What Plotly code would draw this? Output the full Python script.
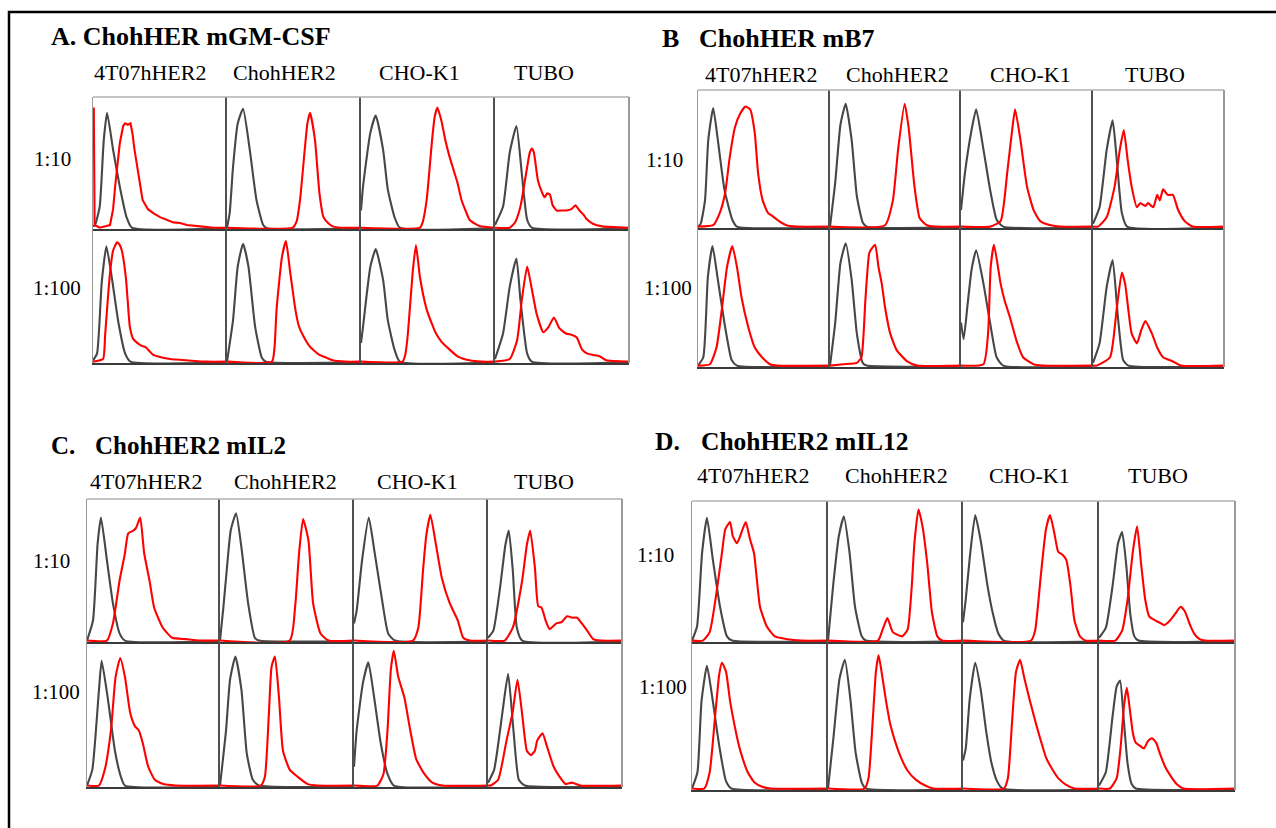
import plotly.graph_objects as go

W, H = 1276, 828

# Flow-cytometry histograms: (channel, % of max count) per sample.
# Order in each list: row 1:10 -> 4T07hHER2, ChohHER2, CHO-K1, TUBO; then row 1:100 in the same order.
CELL_LINES = ["4T07hHER2", "ChohHER2", "CHO-K1", "TUBO"]
DILUTIONS = ["1:10", "1:100"]

A_CONTROL = [
    [(0, 2), (1.5, 3), (5, 17), (8, 67), (10.5, 88), (15, 60), (20, 32), (25, 9), (29, 1), (100, 0.5)],
    [(0, 1), (2, 12), (4.5, 47), (8, 80), (12, 91), (17, 60), (22, 22), (27, 3), (30, 0.5), (100, 0.5)],
    [(0, 14), (1.5, 32), (7, 73), (11, 86), (16.5, 60), (20, 30), (25, 9), (29, 1), (100, 0.5)],
    [(0, 3), (6, 17), (11, 58), (16, 78), (20, 42), (24, 7), (27.5, 1), (100, 0.5)],
    [(0, 2), (3, 7), (6.5, 60), (10, 87), (14, 64), (19, 30), (24, 7), (28, 1), (100, 0.5)],
    [(0, 1), (4.5, 32), (8, 72), (12, 89), (16, 72), (21, 27), (26, 4), (29, 1), (100, 0.5)],
    [(0, 15), (1.5, 27), (7, 72), (11, 85), (16.5, 62), (20, 32), (25, 10), (29, 1), (100, 0.5)],
    [(0, 3), (6, 22), (11, 57), (16, 78), (19, 47), (24, 7), (27.5, 1), (100, 0.5)],
]
A_STAINED = [
    [(0.6, 92), (1.2, 3), (5, 1), (12.7, 3), (15, 15), (16.5, 32), (20, 65), (22.5, 78), (24, 80), (26, 79),
     (28, 80), (29.5, 72), (31, 60), (33, 47), (35, 35), (37, 22), (41, 15), (45, 12), (50, 9), (55, 7),
     (60, 5), (65, 4.5), (70, 3), (80, 2), (90, 1), (100, 1)],
    [(0, 1), (49, 1), (52, 6), (54.5, 22), (58, 60), (60, 80), (62, 88), (65.7, 67), (69, 27), (72, 9),
     (76, 4), (79, 2), (85, 1), (100, 1)],
    [(0, 1), (44, 1), (46, 5), (49, 22), (53, 67), (55, 85), (57, 92), (60, 82), (63, 67), (66, 55),
     (69, 45), (72, 35), (75, 22), (78, 14), (81, 7), (85, 4), (89, 2), (100, 1)],
    [(0, 1), (11, 1), (15, 5), (19, 17), (24, 47), (26, 58), (27.5, 61), (29, 58), (32, 37), (35, 28),
     (37, 24), (39, 27), (41, 26), (43, 18), (46, 14), (50, 14), (53, 14), (57, 15), (60, 18), (63, 14),
     (66, 11), (68, 8), (73, 4), (80, 2), (100, 1)],
    [(0, 1), (7.5, 3), (9, 20), (11, 47), (13, 70), (15, 84), (18, 90), (20, 88), (21.5, 84), (24.5, 64),
     (26, 45), (27.5, 27), (30, 18), (33, 15), (36, 13), (39, 12), (42, 9), (45, 6), (50, 4.5),
     (57.5, 3), (70, 2), (85, 1), (100, 1)],
    [(0, 1), (33.5, 1), (35.5, 12), (37, 40), (41, 79), (44, 91), (47, 69), (51, 40), (53.5, 28),
     (56, 22), (62, 12), (69, 6), (74, 4), (79, 2), (88, 1), (100, 1)],
    [(0, 1), (31, 1), (33, 6), (35, 22), (38.5, 67), (41, 88), (44, 64), (49, 40), (53, 29), (56, 22),
     (60, 16), (64, 12), (72, 5), (81, 2), (90, 1), (100, 1)],
    [(0, 1), (11, 3), (16.5, 17), (20, 47), (24, 72), (27.5, 55), (31, 37), (36, 23), (40, 27), (44, 34),
     (48, 26), (53, 22), (57, 21), (61, 19), (65, 10), (69, 7), (73, 6), (78, 5), (83, 2), (100, 1)],
]

B_CONTROL = [
    [(0, 1), (2, 3), (5.3, 20), (7.8, 64), (11.5, 87), (15, 64), (20, 28), (26, 6), (29.5, 1), (100, 0.5)],
    [(0, 1), (4, 33), (8, 75), (12, 90), (16.5, 64), (20.5, 23), (25, 4), (28, 1), (100, 0.5)],
    [(0, 13), (3, 40), (8, 71), (11.5, 86), (17, 57), (22, 28), (27, 6), (32, 1), (100, 0.5)],
    [(0, 3), (5, 15), (10.5, 57), (15, 78), (18, 51), (22, 11), (26, 1), (100, 0.5)],
    [(0, 1), (4, 7), (7.5, 65), (11, 87), (15, 63), (20.5, 29), (25.5, 5), (29.5, 1), (100, 0.5)],
    [(0, 1), (4, 32), (8, 75), (12, 89), (16.5, 63), (20.5, 24), (25, 3), (28, 1), (100, 0.5)],
    [(0, 32), (2, 20), (5, 45), (8, 70), (11.5, 84), (17, 60), (22, 32), (27, 7), (32, 1), (100, 0.5)],
    [(0, 3), (5, 17), (10.5, 58), (15, 77), (19, 36), (23, 5), (27, 1), (100, 0.5)],
]
B_STAINED = [
    [(0, 1), (11.5, 2), (16.5, 11), (20.5, 25), (24, 51), (28, 73), (32, 83), (36, 88), (39.5, 86),
     (43, 69), (45.5, 40), (49, 20), (53, 11), (56, 9), (60, 6), (63, 4), (67, 2), (75, 1), (100, 1)],
    [(0, 1), (42, 2), (48, 20), (52, 57), (57, 90), (60, 73), (64.5, 30), (68.5, 7), (74, 2), (80, 1), (100, 1)],
    [(0, 1), (22, 1), (30, 5), (35, 40), (39, 73), (41, 86), (45, 64), (50, 30), (55, 13), (60, 5),
     (68, 2), (75, 1), (100, 1)],
    [(0, 1), (4, 1), (10.5, 8), (16.5, 30), (20.5, 57), (23.5, 71), (26.5, 49), (29.5, 30), (33.5, 15),
     (36, 18), (40, 16), (42, 18), (46, 15), (49, 24), (51, 20), (53.5, 28), (57, 24), (61, 24), (65, 13),
     (70, 5), (76, 1), (100, 1)],
    [(0, 1), (9, 2), (14, 14), (18, 41), (22, 72), (26, 87), (29.5, 72), (33, 50), (38, 29), (43, 14),
     (48.5, 7), (54.5, 2), (60, 1), (100, 1)],
    [(0, 1), (10, 2), (20.5, 3), (24, 7), (27, 48), (30, 82), (32.5, 86), (34.5, 88), (37, 72), (39.5, 60),
     (42, 43), (46, 24), (51, 12), (59, 4), (66.5, 1), (100, 1)],
    [(0, 1), (17, 2), (20.5, 24), (22.5, 72), (25, 88), (30, 60), (33, 48), (37, 36), (42, 19), (47, 7),
     (55, 2), (62, 1), (100, 1)],
    [(0, 1), (3, 1), (13, 7), (18, 41), (22, 68), (24.5, 60), (27, 41), (29.5, 24), (33.5, 17), (37, 27),
     (40, 33), (45, 24), (49, 14), (53.5, 7), (61, 4), (67, 1), (100, 1)],
]

C_CONTROL = [
    [(0, 1), (4.5, 15), (8, 69), (10.5, 87), (15, 57), (19.5, 27), (24.5, 6), (28.5, 1), (100, 0.5)],
    [(0, 1), (2.5, 24), (5, 50), (8, 78), (12, 90), (16, 66), (21, 27), (26, 3), (29, 1), (100, 0.5)],
    [(0, 13), (2, 22), (6, 57), (11, 87), (15.5, 62), (21, 29), (25.5, 6), (30.5, 1), (100, 0.5)],
    [(0, 3), (4, 8), (9, 38), (13, 68), (15.5, 78), (18.5, 50), (21.5, 10), (25.5, 1), (100, 0.5)],
    [(0, 1), (4, 12), (9, 67), (11, 87), (15.5, 62), (21, 25), (25.5, 7), (28.5, 1), (100, 0.5)],
    [(0, 1), (4.5, 39), (7.5, 74), (11.5, 90), (16, 67), (20, 23), (24.5, 5), (29, 1), (100, 0.5)],
    [(0, 14), (2, 39), (6.7, 72), (10.7, 86), (15, 62), (20, 30), (25, 9), (29.7, 1), (100, 0.5)],
    [(0, 3), (4.6, 12), (10.7, 51), (15, 78), (19, 39), (23, 5), (27.5, 1), (100, 0.5)],
]
C_STAINED = [
    [(0, 1), (15, 1), (19.5, 13), (24.5, 43), (28.5, 62), (31, 76), (35, 78), (37, 80), (40, 87), (43, 62),
     (47, 43), (50.5, 24), (57, 10), (64, 3), (74.5, 2), (85, 1), (100, 1)],
    [(0, 1), (52, 1), (56, 24), (59, 62), (62, 86), (66, 71), (69.5, 27), (75, 6), (81, 1), (100, 1)],
    [(0, 1), (44, 1), (48, 10), (51.5, 50), (54, 75), (57, 89), (61, 69), (65.5, 45), (71.5, 27), (75, 20),
     (77.5, 15), (81.5, 3), (86.5, 1), (100, 1)],
    [(0, 1), (12.5, 1), (18.5, 10), (25.5, 43), (29, 68), (31.5, 78), (35, 52), (37.5, 25), (40, 24),
     (43, 15), (46, 9), (51, 13), (55, 14), (59, 18), (63, 17), (66.5, 17), (70, 13), (74, 8), (78.5, 2),
     (84, 1), (100, 1)],
    [(0, 1), (9, 1), (13.4, 12), (18, 39), (21.5, 76), (25, 89), (28.5, 76), (32.5, 51), (36, 42), (39, 39),
     (42, 30), (46, 14), (51, 5), (57.5, 2), (66.5, 1), (100, 1)],
    [(0, 1), (30.5, 1), (33.5, 7), (36.5, 51), (38.5, 83), (41, 90), (44, 62), (47, 25), (52, 12), (58, 7),
     (65.5, 2), (73, 1), (100, 1)],
    [(0, 1), (17.5, 1), (22, 9), (25, 39), (27.5, 81), (29.7, 94), (33, 76), (37.5, 62), (42, 39),
     (46.5, 19), (52.5, 9), (58.5, 3), (66, 1), (100, 1)],
    [(0, 1), (2, 1), (7.6, 5), (13.8, 32), (18.3, 51), (22, 74), (25.4, 51), (29, 25), (32, 22), (35, 25),
     (36.7, 32), (40.7, 37), (44, 28), (49, 14), (53.5, 7), (58, 2), (62.7, 3), (69, 1), (100, 1)],
]

D_CONTROL = [
    [(0, 1), (3.7, 11), (7.4, 63), (11, 88), (15.4, 58), (20.6, 25), (25.7, 4), (29.4, 1), (100, 0.5)],
    [(0, 1), (3.7, 39), (8, 75), (11.8, 89), (16, 63), (20, 25), (25, 4), (28, 1), (100, 0.5)],
    [(0, 14), (2, 30), (5, 60), (9, 90), (13, 72), (18, 40), (22, 20), (26, 6), (30, 1), (100, 0.5)],
    [(0, 3), (5, 10), (10, 40), (14, 70), (17, 78), (20, 55), (23, 20), (26, 4), (29, 1), (100, 0.5)],
    [(0, 1), (4, 12), (7, 60), (11, 84), (15, 62), (20, 30), (25, 6), (29, 1), (100, 0.5)],
    [(0, 1), (4, 35), (8.5, 75), (12.5, 88), (16.5, 62), (20.5, 25), (25, 5), (28, 1), (100, 0.5)],
    [(0, 20), (2, 28), (5, 62), (9, 86), (13, 68), (17, 40), (21, 18), (25, 6), (29, 1), (100, 0.5)],
    [(0, 3), (5, 12), (10, 50), (13, 70), (15.5, 74), (18, 50), (21, 18), (24, 4), (27, 1), (100, 0.5)],
]
D_STAINED = [
    [(0, 1), (8, 1), (13, 7), (18, 35), (22, 63), (24.5, 80), (28, 85), (30, 75), (33, 70), (35, 74),
     (39.5, 85), (42.6, 73), (45.6, 63), (50, 25), (55, 11), (61, 4), (70, 2), (80, 1), (100, 1)],
    [(0, 1), (37, 1), (40.5, 9), (44, 17), (48, 7), (55, 4), (59, 9), (62, 39), (64, 70), (67, 94),
     (70, 82), (73.5, 56), (77, 21), (81, 4), (84.5, 1), (100, 1)],
    [(0, 1), (50, 1), (53, 8), (57, 45), (61, 80), (64, 90), (67, 78), (70, 64), (73, 62), (76, 58),
     (79, 40), (82, 15), (86, 4), (90, 1), (100, 1)],
    [(0, 1), (12, 1), (17, 8), (21, 30), (25, 65), (28, 82), (31, 55), (34, 30), (37, 18), (40, 16),
     (44, 14), (48, 12), (52, 15), (56, 20), (60, 25), (63, 22), (67, 12), (70, 6), (74, 2), (78, 1), (100, 1)],
    [(0, 1), (9, 1), (13, 12), (17, 50), (20, 78), (22, 86), (25, 80), (28, 60), (31, 45), (34, 32),
     (37, 22), (41, 12), (46, 5), (52, 2), (58, 1), (100, 1)],
    [(0, 1), (27, 1), (30, 8), (33, 45), (35.5, 80), (37.5, 91), (40, 78), (43, 60), (46, 45), (50, 32),
     (54, 22), (59, 13), (65, 7), (72, 3), (78, 1), (100, 1)],
    [(0, 1), (30, 1), (33, 8), (36, 45), (39, 80), (42, 88), (45, 76), (49, 61), (53, 47), (57, 34),
     (61, 22), (65, 15), (70, 8), (75, 4), (82, 1), (100, 1)],
    [(0, 1), (8, 1), (13, 8), (16, 30), (18.5, 58), (20.5, 69), (23, 52), (25, 38), (27, 32), (30, 30),
     (33, 28), (36, 33), (39, 35), (42, 32), (45, 24), (49, 15), (53, 9), (57, 4), (62, 1), (100, 1)],
]

# Panel layout in page pixels: grid column edges, row edges, title and label placement
PANELS = [
    dict(letter="A.", name="ChohHER mGM-CSF", letter_x=49, name_x=None, title_y=37, tsize=26,
         xs=[93, 227, 361, 495, 629], ys=[97, 229, 363],
         col_x=[150, 284, 419, 544], col_y=73, row_x=[52, 57], row_y=[159, 288],
         control=A_CONTROL, stained=A_STAINED),
    dict(letter="B", name="ChohHER mB7", letter_x=660, name_x=697, title_y=39, tsize=26,
         xs=[698, 830, 961, 1093, 1224], ys=[90, 228, 367],
         col_x=[761, 897, 1030, 1155], col_y=75, row_x=[664, 668], row_y=[160, 288],
         control=B_CONTROL, stained=B_STAINED),
    dict(letter="C.", name="ChohHER2 mIL2", letter_x=49, name_x=93, title_y=446, tsize=25,
         xs=[87, 220, 354, 488, 622], ys=[499, 642, 787],
         col_x=[146, 285, 417, 544], col_y=481, row_x=[51, 56], row_y=[561, 692],
         control=C_CONTROL, stained=C_STAINED),
    dict(letter="D.", name="ChohHER2 mIL12", letter_x=653, name_x=699, title_y=441, tsize=25.5,
         xs=[692, 828, 963, 1099, 1235], ys=[501, 642, 790],
         col_x=[753, 896, 1029, 1158], col_y=475, row_x=[655, 663], row_y=[555, 687],
         control=D_CONTROL, stained=D_STAINED),
]

SERIF = "Liberation Serif, Times New Roman, serif"
GRAY = "#474747"
RED = "#ff0000"


def px(x):
    return x / W


def py(y):
    return 1 - y / H


fig = go.Figure()
layout = dict(width=W, height=H, margin=dict(l=0, r=0, t=0, b=0),
              paper_bgcolor="white", plot_bgcolor="white", showlegend=False)
shapes, annotations = [], []

k = 0
for p in PANELS:
    xs, ys = p["xs"], p["ys"]
    for r in range(2):
        for c in range(4):
            k += 1
            idx = r * 4 + c
            xname = "x" if k == 1 else f"x{k}"
            yname = "y" if k == 1 else f"y{k}"
            layout["xaxis" if k == 1 else f"xaxis{k}"] = dict(
                domain=[px(xs[c]), px(xs[c + 1])], range=[0, 100], anchor=yname,
                showgrid=False, zeroline=False, showticklabels=False, ticks="",
                showline=True, linecolor="#3a3a3a", linewidth=2, fixedrange=True)
            layout["yaxis" if k == 1 else f"yaxis{k}"] = dict(
                domain=[py(ys[r + 1]), py(ys[r])], range=[0, 100], anchor=xname,
                showgrid=False, zeroline=False, showticklabels=False, ticks="",
                showline=True, linecolor="#9a9a9a" if c == 0 else "#505050",
                linewidth=1.2 if c == 0 else 1.5, fixedrange=True)
            for pts, col in ((p["control"][idx], GRAY), (p["stained"][idx], RED)):
                # an off-scale first channel is drawn as a straight spike
                shape = "linear" if pts[0][1] > 50 else "spline"
                fig.add_trace(go.Scatter(
                    x=[q[0] for q in pts], y=[q[1] for q in pts], mode="lines",
                    line=dict(color=col, width=2.1, shape=shape, smoothing=0.5),
                    xaxis=xname, yaxis=yname, hoverinfo="skip"))
    # light frame on the top and right of each grid
    shapes.append(dict(type="line", xref="paper", yref="paper",
                       x0=px(xs[0]), x1=px(xs[-1]), y0=py(ys[0]), y1=py(ys[0]),
                       line=dict(color="#b0b0b0", width=1.5)))
    shapes.append(dict(type="line", xref="paper", yref="paper",
                       x0=px(xs[-1]), x1=px(xs[-1]), y0=py(ys[0]), y1=py(ys[-1]),
                       line=dict(color="#9a9a9a", width=2)))

    # panel title
    tfont = dict(family=SERIF, size=p["tsize"], color="black")
    if p["name_x"] is None:
        annotations.append(dict(text=f"<b>{p['letter']} {p['name']}</b>", x=px(p["letter_x"]),
                                y=py(p["title_y"]), xref="paper", yref="paper", xanchor="left",
                                yanchor="middle", showarrow=False, font=tfont))
    else:
        annotations.append(dict(text=f"<b>{p['letter']}</b>", x=px(p["letter_x"]),
                                y=py(p["title_y"]), xref="paper", yref="paper", xanchor="left",
                                yanchor="middle", showarrow=False, font=tfont))
        annotations.append(dict(text=f"<b>{p['name']}</b>", x=px(p["name_x"]),
                                y=py(p["title_y"]), xref="paper", yref="paper", xanchor="left",
                                yanchor="middle", showarrow=False, font=tfont))
    # cell-line column headers
    for c, lab in enumerate(CELL_LINES):
        annotations.append(dict(text=lab, x=px(p["col_x"][c]), y=py(p["col_y"]), xref="paper",
                                yref="paper", xanchor="center", yanchor="middle", showarrow=False,
                                font=dict(family=SERIF, size=22, color="black")))
    # dilution row labels
    for r, lab in enumerate(DILUTIONS):
        annotations.append(dict(text=lab, x=px(p["row_x"][r]), y=py(p["row_y"][r]), xref="paper",
                                yref="paper", xanchor="center", yanchor="middle", showarrow=False,
                                font=dict(family=SERIF, size=21, color="black")))

# outer figure frame
shapes.append(dict(type="rect", xref="paper", yref="paper",
                   x0=px(9), x1=px(W + 10), y0=py(12), y1=py(H + 10),
                   line=dict(color="black", width=2.5), fillcolor="rgba(0,0,0,0)"))

layout["shapes"] = shapes
layout["annotations"] = annotations
fig.update_layout(**layout)
fig.write_html("out.html")
